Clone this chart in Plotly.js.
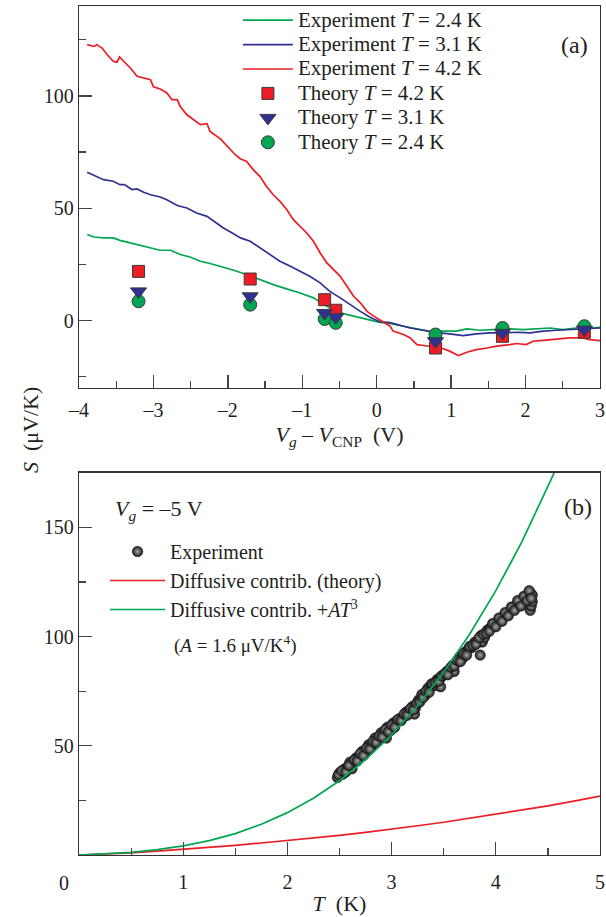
<!DOCTYPE html>
<html><head><meta charset="utf-8">
<script src="https://cdn.plot.ly/plotly-3.0.1.min.js"></script>
<style>html,body{margin:0;padding:0;background:#fff}</style>
</head><body><div id="chart" style="width:606px;height:917px"></div>
<script>
// ---------- Panel (a): experiment curves ----------
const vg42 = [-3.89,-3.80,-3.76,-3.69,-3.62,-3.54,-3.49,-3.455,-3.40,-3.31,-3.22,-3.13,-3.04,-3.00,-2.91,-2.82,-2.75,-2.68,-2.64,-2.55,-2.46,-2.37,-2.28,-2.24,-2.10,-2.01,-1.90,-1.83,-1.75,-1.66,-1.57,-1.48,-1.39,-1.30,-1.21,-1.12,-1.03,-0.94,-0.85,-0.76,-0.67,-0.58,-0.49,-0.40,-0.31,-0.22,-0.13,-0.05,0.00,0.09,0.18,0.22,0.36,0.45,0.54,0.63,0.72,0.87,0.98,1.10,1.21,1.34,1.48,1.61,1.79,1.88,2.01,2.10,2.24,2.42,2.59,2.77,2.86,3.00];
const s42 = [122.8,122.0,122.8,121.3,118.3,115.4,115.0,117.3,115.4,112.4,108.7,108.0,107.2,104.0,103.1,101.3,98.3,98.3,95.3,91.6,89.4,87.2,87.6,84.2,80.9,77.5,73.8,71.9,70.9,67.2,64.2,59.7,56.0,53.1,49.4,44.9,41.9,39.0,35.3,30.1,25.7,22.7,19.7,15.3,10.8,7.9,4.1,2.2,1.2,-0.5,-2.5,-4.7,-6.2,-7.7,-10.7,-11.1,-11.4,-12.2,-13.6,-15.6,-14.1,-12.9,-12.2,-11.4,-10.7,-10.2,-10.7,-9.2,-8.8,-8.2,-7.7,-7.7,-8.5,-8.9];

const vg31 = [-3.89,-3.80,-3.67,-3.54,-3.45,-3.39,-3.29,-3.22,-3.13,-3.04,-2.91,-2.82,-2.68,-2.55,-2.42,-2.28,-2.19,-2.06,-1.97,-1.83,-1.70,-1.57,-1.43,-1.30,-1.16,-1.03,-0.90,-0.76,-0.63,-0.49,-0.36,-0.22,-0.09,0.04,0.18,0.31,0.45,0.63,0.81,0.98,1.16,1.34,1.52,1.70,1.88,2.06,2.24,2.42,2.59,2.77,3.00];
const s31 = [66.0,64.5,62.7,62.0,60.5,60.5,58.3,58.6,57.1,56.0,55.0,53.8,51.2,50.1,47.9,46.4,44.2,41.2,39.5,36.8,35.3,32.3,29.4,26.4,24.2,21.9,19.7,16.8,13.0,10.1,7.1,4.1,1.5,-0.5,-0.9,-2.2,-3.3,-4.3,-5.4,-5.9,-6.7,-5.9,-5.5,-5.5,-5.2,-5.5,-4.7,-4.3,-4.0,-4.0,-3.3];

const vg24 = [-3.89,-3.80,-3.67,-3.54,-3.45,-3.31,-3.18,-3.04,-2.91,-2.77,-2.64,-2.51,-2.37,-2.24,-2.10,-1.92,-1.75,-1.57,-1.39,-1.21,-1.03,-0.85,-0.67,-0.49,-0.31,-0.13,0.04,0.18,0.36,0.54,0.72,0.89,1.07,1.21,1.39,1.56,1.79,1.97,2.15,2.33,2.50,2.68,2.86,3.00];
const s24 = [38.3,37.2,36.8,36.8,35.7,34.6,33.4,32.3,31.3,31.3,29.4,28.3,26.4,25.4,24.2,22.4,20.5,18.2,16.0,14.1,12.3,10.1,6.4,3.4,1.9,0.4,-0.8,-1.3,-2.5,-3.7,-4.9,-4.7,-4.7,-3.7,-4.3,-4.0,-3.7,-4.0,-3.7,-3.3,-4.0,-3.3,-3.3,-3.0];

// ---------- Panel (a): theory points ----------
const thVg = [-3.2,-1.7,-0.7,-0.55,0.79,1.69,2.79];
const th42 = [21.9,18.5,9.3,4.6,-12.2,-7.0,-5.2];
const th31 = [13.0,10.8,3.4,1.5,-9.2,-5.5,-4.0];
const th24 = [8.6,7.1,0.7,-1.0,-6.2,-3.3,-2.5];

// ---------- Panel (b) ----------
const expT = [2.48,2.50,2.53,2.55,2.58,2.60,2.62,2.63,2.66,2.69,2.72,2.75,2.78,2.81,2.84,2.87,2.90,2.93,2.95,2.96,2.99,3.02,3.05,3.08,3.11,3.14,3.17,3.20,3.22,3.23,3.26,3.29,3.32,3.35,3.38,3.41,3.44,3.47,3.47,3.50,3.53,3.56,3.59,3.60,3.62,3.65,3.68,3.71,3.74,3.77,3.80,3.83,3.85,3.86,3.87,3.89,3.92,3.95,3.98,4.01,4.04,4.07,4.10,4.13,4.16,4.19,4.22,4.25,4.28,4.31,4.33,4.33,4.34,4.35,4.35,
  2.49,2.52,2.56,2.59,2.64,2.67,2.70,2.73,2.76,2.79,2.82,2.85,2.88,2.91,2.94,2.97,3.00,3.03,3.06,3.09,3.12,3.15,3.18,3.21,3.24,3.27,3.30,3.33,3.36,3.39,3.42,3.45,3.48,3.51,3.54,3.57,3.60,3.63,3.66,3.69,3.72,3.75,3.78,3.81,3.84,3.88,3.91,3.94,3.97,4.00,4.03,4.06,4.09,4.12,4.15,4.18,4.21,4.24,4.27,4.30,4.32,4.34];
const expS = [35.5,37.5,37.0,39.5,40.0,42.5,39.5,42.0,44.5,45.0,47.5,47.0,50.5,50.0,53.5,53.0,56.0,55.5,53.5,58.5,57.0,60.5,61.0,62.5,63.0,65.5,66.0,68.0,64.5,67.5,71.0,73.5,73.0,76.5,78.0,77.5,80.5,81.0,77.0,82.5,84.0,85.0,87.0,84.0,88.0,90.5,90.0,93.0,94.5,95.0,97.5,98.0,91.5,100.5,97.5,99.5,103.0,104.0,105.0,106.5,107.5,109.0,110.0,111.0,112.5,114.0,115.0,116.5,117.0,118.5,120.0,112.0,114.0,119.0,116.0,
  36.8,38.5,38.0,41.0,43.5,43.0,46.5,45.5,49.0,48.5,52.0,51.5,54.5,54.0,57.5,56.5,59.5,58.5,62.0,61.5,64.5,64.0,67.0,66.5,69.5,70.0,72.0,75.0,74.5,78.5,79.0,79.5,82.0,83.0,82.5,86.0,86.5,89.0,88.5,92.0,91.5,95.5,96.0,96.5,99.5,101.0,101.5,102.5,106.0,104.5,108.5,107.0,111.0,109.5,113.5,112.0,116.5,114.0,118.5,116.5,121.0,117.5];

const diffT = [0,0.25,0.5,0.75,1,1.25,1.5,1.75,2,2.25,2.5,2.75,3,3.25,3.5,3.75,4,4.25,4.5,4.75,5];
const diffS = [0,0.4,1.0,1.8,2.6,3.5,4.4,5.5,6.6,7.8,9.0,10.4,11.8,13.4,15.0,16.8,18.6,20.5,22.5,24.7,27.0];

const fitT = [0,0.25,0.5,0.75,1,1.25,1.5,1.75,2,2.25,2.5,2.75,3,3.25,3.5,3.75,4,4.25,4.5,4.6];
const fitS = [0,0.5,1.2,2.5,4.2,6.6,9.8,14.1,19.4,26.0,34.0,43.7,55.0,68.3,83.6,101.2,121.0,143.3,168.3,179.0];

// ---------- Tick labels ----------
const xTickVals1 = [-4,-3,-2,-1,0,1,2,3];
const xTickText1 = ['–4','–3','–2','–1','0','1','2','3'];
const yTickVals1 = [0,50,100];
const xTickVals2 = [0,1,2,3,4,5];
const xTickText2 = ['','1','2','3','4','5'];
const yTickVals2 = [50,100,150];

const GREEN = '#00a651', BLUE = '#2e3192', RED = '#ed1c24', INK = '#231f20';
const FONT = 'Liberation Serif, Times New Roman, serif';
const big = s => '<span style="font-size:21px">' + s + '</span>';

const traces = [
  {x: vg24, y: s24, mode:'lines', line:{color:GREEN, width:1.7}, name:big('Experiment <i>T</i> = 2.4 K'), legendrank:1, xaxis:'x', yaxis:'y'},
  {x: vg31, y: s31, mode:'lines', line:{color:BLUE, width:1.7}, name:big('Experiment <i>T</i> = 3.1 K'), legendrank:2, xaxis:'x', yaxis:'y'},
  {x: vg42, y: s42, mode:'lines', line:{color:RED, width:1.7}, name:big('Experiment <i>T</i> = 4.2 K'), legendrank:3, xaxis:'x', yaxis:'y'},
  {x: thVg, y: th42, mode:'markers', marker:{symbol:'square', size:12, color:RED, line:{color:'#3a3a3a', width:1}}, name:big('Theory <i>T</i> = 4.2 K'), legendrank:4, xaxis:'x', yaxis:'y'},
  {x: thVg, y: th24, mode:'markers', marker:{symbol:'circle', size:13, color:GREEN, line:{color:'#3a3a3a', width:1}}, name:big('Theory <i>T</i> = 2.4 K'), legendrank:6, xaxis:'x', yaxis:'y'},
  {x: thVg, y: th31, mode:'markers', marker:{symbol:'triangle-down', size:14, color:BLUE, line:{color:'#3a3a3a', width:1}}, name:big('Theory <i>T</i> = 3.1 K'), legendrank:5, xaxis:'x', yaxis:'y'},
  {x: expT, y: expS, mode:'markers', marker:{symbol:'circle', size:10.5, color:'#181818', gradient:{type:'radial', color:'#a8a8a8'}, line:{color:'#111', width:0.5}}, name:'Experiment', legend:'legend2', legendrank:1, xaxis:'x2', yaxis:'y2'},
  {x: diffT, y: diffS, mode:'lines', line:{color:RED, width:1.7}, name:'Diffusive contrib. (theory)', legend:'legend2', legendrank:2, xaxis:'x2', yaxis:'y2'},
  {x: fitT, y: fitS, mode:'lines', line:{color:GREEN, width:1.7}, name:'Diffusive contrib. +<i>AT</i><sup>3</sup>', legend:'legend2', legendrank:3, xaxis:'x2', yaxis:'y2'}
];

const axBase = {
  ticks:'inside', ticklen:13, tickwidth:1.3, tickcolor:'#444',
  showline:true, linecolor:'#333', linewidth:1.3, mirror:true,
  showgrid:false, zeroline:false, tickmode:'array',
  tickfont:{family:FONT, size:20, color:INK}
};
const minorBase = {ticks:'inside', ticklen:7, tickwidth:1.2, tickcolor:'#444', showgrid:false};

const layout = {
  width:606, height:917,
  margin:{l:79, r:6, t:2, b:62},
  paper_bgcolor:'#fff', plot_bgcolor:'#fff',
  font:{family:FONT, size:20, color:INK},
  showlegend:true,
  xaxis: Object.assign({}, axBase, {domain:[0,1], anchor:'y', range:[-4,3], tickvals:xTickVals1, ticktext:xTickText1,
    minor:Object.assign({tick0:0, dtick:0.5}, minorBase), ticklabelstandoff:4,
    title:{text:'<i>V</i><sub><i>g</i></sub> – <i>V</i><sub>CNP</sub>  (V)', font:{family:FONT, size:22, color:INK}, standoff:6}}),
  yaxis: Object.assign({}, axBase, {domain:[0.54748,0.99531], anchor:'x', range:[-30,140], tickvals:yTickVals1,
    minor:Object.assign({tick0:0, dtick:25}, minorBase)}),
  xaxis2: Object.assign({}, axBase, {domain:[0,1], anchor:'y2', range:[0,5], tickvals:xTickVals2, ticktext:xTickText2,
    minor:Object.assign({tick0:0, dtick:0.5}, minorBase), ticklabelstandoff:9,
    title:{text:'<i>T</i>  (K)', font:{family:FONT, size:22, color:INK}, standoff:3}}),
  yaxis2: Object.assign({}, axBase, {domain:[0,0.44818], anchor:'x2', range:[0,175], tickvals:yTickVals2,
    minor:Object.assign({tick0:0, dtick:25}, minorBase)}),
  legend:{x:0.305, xanchor:'left', y:0.999, yanchor:'top', bgcolor:'rgba(0,0,0,0)', borderwidth:0,
    font:{family:FONT, size:16.5, color:INK}, traceorder:'normal', itemwidth:50, tracegroupgap:0},
  legend2:{x:0.05, xanchor:'left', y:0.37866, yanchor:'top', bgcolor:'rgba(0,0,0,0)', borderwidth:0,
    font:{family:FONT, size:20, color:INK}, traceorder:'normal', itemwidth:55, tracegroupgap:0},
  annotations:[
    {text:'(a)', xref:'paper', yref:'paper', x:0.981, y:0.9496, xanchor:'right', yanchor:'middle', showarrow:false, font:{family:FONT, size:24, color:INK}},
    {text:'(b)', xref:'paper', yref:'paper', x:0.988, y:0.40797, xanchor:'right', yanchor:'middle', showarrow:false, font:{family:FONT, size:24, color:INK}},
    {text:'<i>V</i><sub><i>g</i></sub> = –5 V', xref:'paper', yref:'paper', x:0.065, y:0.40445, xanchor:'left', yanchor:'middle', showarrow:false, font:{family:FONT, size:22, color:INK}},
    {text:'(<i>A</i> = 1.6 μV/K<sup>4</sup>)', xref:'paper', yref:'paper', x:0.1785, y:0.24619, xanchor:'left', yanchor:'middle', showarrow:false, font:{family:FONT, size:19, color:INK}},
    {text:'<i>S</i>  (μV/K)', xref:'paper', yref:'paper', x:-0.094, y:0.49824, xanchor:'center', yanchor:'middle', textangle:-90, showarrow:false, font:{family:FONT, size:22, color:INK}},
    {text:'0', xref:'paper', yref:'paper', x:-0.029, y:-0.03283, xanchor:'center', yanchor:'middle', showarrow:false, font:{family:FONT, size:20, color:INK}}
  ]
};

Plotly.newPlot('chart', traces, layout, {displayModeBar:false, staticPlot:true});
</script></body></html>
